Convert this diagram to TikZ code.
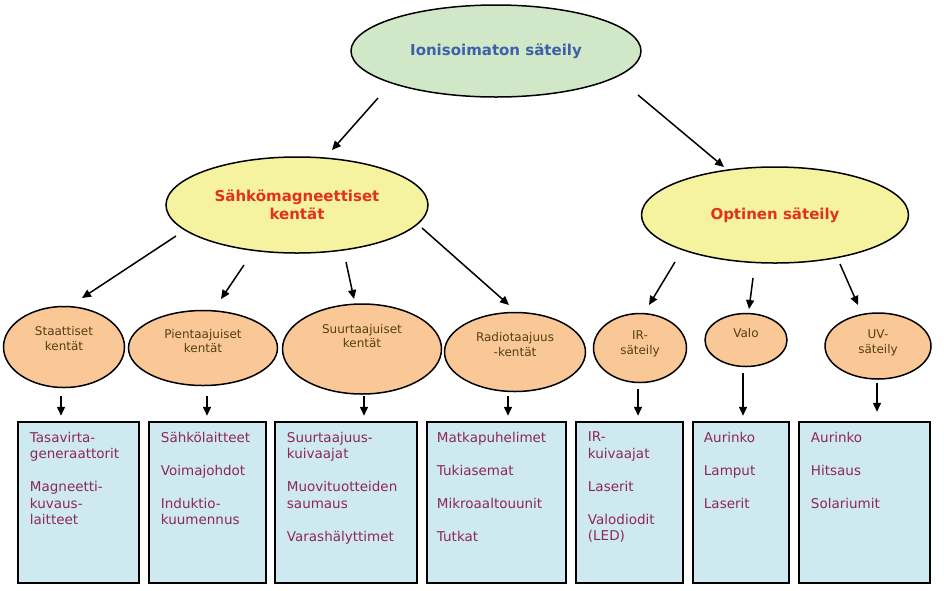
\documentclass[tikz,border=0pt]{standalone}
\usepackage{fontspec}
\setmainfont{DejaVu Sans}
\usetikzlibrary{shapes.geometric,arrows.meta,calc}
\definecolor{topfill}{RGB}{208,232,200}
\definecolor{topblue}{RGB}{62,96,168}
\definecolor{yellowfill}{RGB}{245,243,160}
\definecolor{redtext}{RGB}{226,50,30}
\definecolor{orangefill}{RGB}{250,200,150}
\definecolor{browntext}{RGB}{85,62,20}
\definecolor{boxfill}{RGB}{206,234,240}
\definecolor{itemtext}{RGB}{140,40,90}
\begin{document}
\begin{tikzpicture}[x=1pt,y=-1pt,
  ell/.style={ellipse,draw=black,line width=1.5pt,inner sep=0pt},
  lone/.style={ell,fill=topfill,text=topblue,font=\fontsize{15}{18}\selectfont\bfseries},
  ltwo/.style={ell,fill=yellowfill,text=redtext,font=\fontsize{15}{18}\selectfont\bfseries,align=center},
  lthree/.style={ell,fill=orangefill},
  lthreetext/.style={text=browntext,font=\fontsize{12}{14.5}\selectfont,align=center,inner sep=0pt},
  itembox/.style={draw=black,line width=2.5pt,fill=boxfill,minimum width=#1,minimum height=161pt,inner sep=0pt},
  itm/.style={anchor=north west,inner sep=0pt,text=itemtext,font=\fontsize{13.5}{16.5}\selectfont,align=left},
  arr/.style={line width=1.5pt,-{Triangle[length=9pt,width=8pt]}}
]
\useasboundingbox (0,0) rectangle (944,590);
\fill[white] (0,0) rectangle (944,590);

% level 1
\node[lone,minimum width=290pt,minimum height=92pt] (top) at (496,51) {Ionisoimaton säteily};
% level 2
\node[ltwo,minimum width=262pt,minimum height=96pt] (sah) at (297,205) {Sähkömagneettiset\\kentät};
\node[ltwo,minimum width=267pt,minimum height=96pt] (opt) at (775,215) {Optinen säteily};
% level 3
\node[lthree,minimum width=121pt,minimum height=81pt] (stat) at (64,347) {};
\node[lthree,minimum width=149pt,minimum height=75pt] (pien) at (203,348) {};
\node[lthree,minimum width=159pt,minimum height=90pt] (suur) at (362,349) {};
\node[lthree,minimum width=141pt,minimum height=79pt] (radio) at (515,352) {};
\node[lthree,minimum width=93pt,minimum height=69pt] (ir) at (640,348) {};
\node[lthree,minimum width=82pt,minimum height=53pt] (valo) at (746,340) {};
\node[lthree,minimum width=106pt,minimum height=66pt] (uv) at (878,346) {};

\node[lthreetext] (statt) at ($(stat)+(0,-8.5)$) {Staattiset\\kentät};
\node[lthreetext] (pient) at ($(pien)+(0,-7)$) {Pientaajuiset\\kentät};
\node[lthreetext] (suurt) at ($(suur)+(0,-13)$) {Suurtaajuiset\\kentät};
\node[lthreetext] (radiot) at ($(radio)+(0,-7.5)$) {Radiotaajuus\\-kentät};
\node[lthreetext] (irt) at ($(ir)+(0,-4)$) {IR-\\säteily};
\node[lthreetext] (valot) at ($(valo)+(0,-7)$) {Valo};
\node[lthreetext] (uvt) at ($(uv)+(0,-3)$) {UV-\\säteily};

% boxes
\node[itembox=121pt] (b1) at (78.5,502.5) {};
\node[itembox=117pt] (b2) at (207.5,502.5) {};
\node[itembox=142pt] (b3) at (346,502.5) {};
\node[itembox=139pt] (b4) at (496.5,502.5) {};
\node[itembox=107pt] (b5) at (629.5,502.5) {};
\node[itembox=96pt] (b6) at (741,502.5) {};
\node[itembox=131pt] (b7) at (864.5,502.5) {};

\node[itm] (t1) at ($(b1.north west)+(13,11)$) {Tasavirta-\\generaattorit\\[16.5pt]Magneetti-\\kuvaus-\\laitteet};
\node[itm] (t2) at ($(b2.north west)+(13,11)$) {Sähkölaitteet\\[16.5pt]Voimajohdot\\[16.5pt]Induktio-\\kuumennus};
\node[itm] (t3) at ($(b3.north west)+(13,11)$) {Suurtaajuus-\\kuivaajat\\[16.5pt]Muovituotteiden\\saumaus\\[16.5pt]Varashälyttimet};
\node[itm] (t4) at ($(b4.north west)+(11,11)$) {Matkapuhelimet\\[16.5pt]Tukiasemat\\[16.5pt]Mikroaaltouunit\\[16.5pt]Tutkat};
\node[itm] (t5) at ($(b5.north west)+(13,11)$) {IR-\\kuivaajat\\[16.5pt]Laserit\\[16.5pt]Valodiodit\\(LED)};
\node[itm] (t6) at ($(b6.north west)+(12,11)$) {Aurinko\\[16.5pt]Lamput\\[16.5pt]Laserit};
\node[itm] (t7) at ($(b7.north west)+(13,11)$) {Aurinko\\[16.5pt]Hitsaus\\[16.5pt]Solariumit};

% arrows level 1 -> 2
\draw[arr] ($(top)+(-118,47)$) -- ($(sah)+(35,-55)$);
\draw[arr] ($(top)+(142,44)$) -- ($(opt)+(-51,-48)$);
% level 2 -> 3
\draw[arr] ($(sah)+(-121,31)$) -- ($(stat)+(18,-49)$);
\draw[arr] ($(sah)+(-53,60)$) -- ($(pien)+(18,-49)$);
\draw[arr] ($(sah)+(49,57)$) -- ($(suur)+(-8,-50)$);
\draw[arr] ($(sah)+(125,23)$) -- ($(radio)+(-6,-47)$);
\draw[arr] ($(opt)+(-100,47)$) -- ($(ir)+(9,-43)$);
\draw[arr] ($(opt)+(-22,63)$) -- ($(valo)+(3,-31)$);
\draw[arr] ($(opt)+(65,49)$) -- ($(uv)+(-20,-41)$);
% level 3 -> boxes
\draw[arr] ($(stat)+(-3,49)$) -- ($(b1.north)+(-17.5,-5)$);
\draw[arr] ($(pien)+(4,48)$) -- ($(b2.north)+(-0.5,-5)$);
\draw[arr] ($(suur)+(2,47)$) -- ($(b3.north)+(18,-5)$);
\draw[arr] ($(radio)+(-7,44)$) -- ($(b4.north)+(11.5,-5)$);
\draw[arr] ($(ir)+(-2,41)$) -- ($(b5.north)+(8.5,-5)$);
\draw[arr] ($(valo)+(-3,33)$) -- ($(b6.north)+(2,-5)$);
\draw[arr] ($(uv)+(-1,37)$) -- ($(b7.north)+(12.5,-9)$);
\end{tikzpicture}
\end{document}
